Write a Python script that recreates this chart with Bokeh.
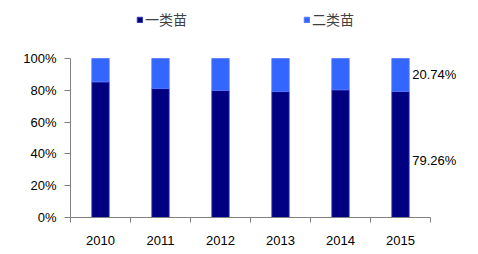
from bokeh.plotting import figure
from bokeh.models import ColumnDataSource, FixedTicker, Legend, LegendItem, NumeralTickFormatter, Label
from bokeh.embed import file_html
from bokeh.resources import INLINE

years = ["2010", "2011", "2012", "2013", "2014", "2015"]
class1 = [85.3, 81.1, 79.9, 79.2, 80.3, 79.26]
class2 = [round(100 - v, 2) for v in class1]
class2[-1] = 20.74
series_names = ["一类苗", "二类苗"]
colors = ["#000080", "#3366FF"]

xs = [i + 1 for i in range(len(years))]
src = ColumnDataSource(dict(
    x=xs,
    c1=[v / 100 for v in class1],
    c2=[v / 100 for v in class2],
    top2=[(a + b) / 100 for a, b in zip(class1, class2)],
))

x_end = 0.5 + (468 - 70) / 60.0
y_end = (217 - 5) / 159.0
p = figure(width=478, height=254, x_range=(0.5, x_end), y_range=(0, y_end),
           output_backend="svg", toolbar_location=None,
           min_border_left=70, min_border_right=10, min_border_top=5, min_border_bottom=37)
p.outline_line_color = None
p.grid.visible = False
p.background_fill_color = "white"

r1 = p.vbar(x="x", width=0.29, bottom=0, top="c1", source=src, fill_color=colors[0],
            line_color="#3344cc", line_width=0.8)
r2 = p.vbar(x="x", width=0.29, bottom="c1", top="top2", source=src, fill_color=colors[1],
            line_color="#5577ff", line_width=0.8)

p.xaxis.ticker = FixedTicker(ticks=xs, minor_ticks=[x - 0.5 for x in xs] + [xs[-1] + 0.5])
p.xaxis.major_label_overrides = {x: y for x, y in zip(xs, years)}
p.xaxis.minor_tick_out = 5
p.xaxis.minor_tick_in = 0
p.xaxis.minor_tick_line_color = "#808080"
p.xaxis.major_label_standoff = 12
p.xaxis.bounds = (0.5, len(years) + 0.5)

p.yaxis.ticker = FixedTicker(ticks=[0, 0.2, 0.4, 0.6, 0.8, 1.0])
p.yaxis.formatter = NumeralTickFormatter(format="0%")
p.yaxis.major_tick_out = 6
p.yaxis.major_tick_in = 0
p.yaxis.minor_tick_line_color = None
p.yaxis.major_label_standoff = 8
p.yaxis.bounds = (0, 1)

for ax in (p.xaxis, p.yaxis):
    ax.axis_line_color = "#808080"
    ax.major_label_text_font = "Liberation Sans"
    ax.major_label_text_font_size = "13px"
    ax.major_label_text_color = "#000000"
p.yaxis.major_tick_line_color = "#808080"
p.xaxis.major_tick_line_color = None

# labels for last year
last = len(years) - 1
p.add_layout(Label(x=xs[last] + 0.145, y=(class1[last] + class2[last] / 2) / 100,
                   text=f"{class2[last]:.2f}%", x_offset=3, text_baseline="middle",
                   text_font="Liberation Sans", text_font_size="13px", text_color="#000000"))
p.add_layout(Label(x=xs[last] + 0.145, y=class1[last] / 2 / 100,
                   text=f"{class1[last]:.2f}%", x_offset=3, y_offset=-6, text_baseline="middle",
                   text_font="Liberation Sans", text_font_size="13px", text_color="#000000"))

legend = Legend(items=[LegendItem(label=series_names[0], renderers=[r1]),
                       LegendItem(label=series_names[1], renderers=[r2])],
                orientation="horizontal", location=(66, 188),
                glyph_width=7, glyph_height=7, label_standoff=2, spacing=116,
                padding=0, margin=0, border_line_color=None, background_fill_alpha=0,
                label_text_font="Noto Sans CJK SC", label_text_font_size="14px",
                label_text_color="#404040")
p.add_layout(legend, "center")

open("out.html", "w").write(file_html(p, INLINE))
